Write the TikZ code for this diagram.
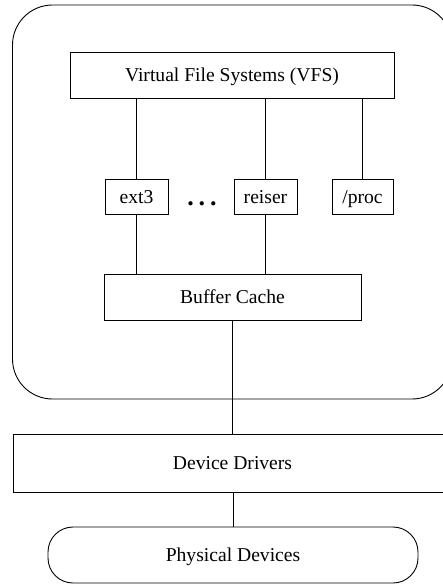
\documentclass[tikz,border=0pt]{standalone}
\usepackage{fontspec}
\setmainfont{Liberation Serif}
\begin{document}
\begin{tikzpicture}[x=1pt,y=-1pt,
  every node/.style={font=\fontsize{19.6}{23}\selectfont, inner sep=0pt, text height=13.3pt, text depth=0pt},
  box/.style={draw, rectangle, line width=0.9pt},
  conn/.style={line width=0.9pt}]
\useasboundingbox (0,0) rectangle (443,585);
\begin{scope}
\clip (0,0) rectangle (443,585);
\node[box, rounded corners=40pt, minimum width=439.5pt, minimum height=394pt] (kernel) at (232.25,202) {};
\node[box, minimum width=439pt, minimum height=58pt] (drivers) at (232.5,463) {Device Drivers};
\end{scope}
\node[box, minimum width=324pt, minimum height=46pt] (vfs) at (232,75) {Virtual File Systems (VFS)};
\node[box, minimum width=63pt, minimum height=35pt] (ext3) at (136.5,196.5) {ext3};
\node[box, minimum width=63pt, minimum height=35pt] (reiser) at (265.5,196.5) {reiser};
\node[box, minimum width=61pt, minimum height=35pt] (proc) at (362.5,196.5) {/proc};
\node[anchor=base, font=\fontsize{26}{26}\selectfont\bfseries, text height=, text depth=] (dots) at (202,205.3) {.\hspace{4.8pt}.\hspace{4.8pt}.};
\node[box, minimum width=257pt, minimum height=46pt] (buffer) at (232.5,297) {Buffer Cache};
\node[box, rounded corners=25pt, minimum width=370pt, minimum height=56pt] (physical) at (233,555) {Physical Devices};
\draw[conn] (vfs.south -| ext3) -- (ext3.north);
\draw[conn] (vfs.south -| reiser) -- (reiser.north);
\draw[conn] (vfs.south -| proc) -- (proc.north);
\draw[conn] (ext3.south) -- (buffer.north -| ext3);
\draw[conn] (reiser.south) -- (buffer.north -| reiser);
\draw[conn] (buffer.south) -- (buffer.south |- drivers.north);
\draw[conn] (drivers.south -| physical) -- (physical.north);
\end{tikzpicture}
\end{document}
